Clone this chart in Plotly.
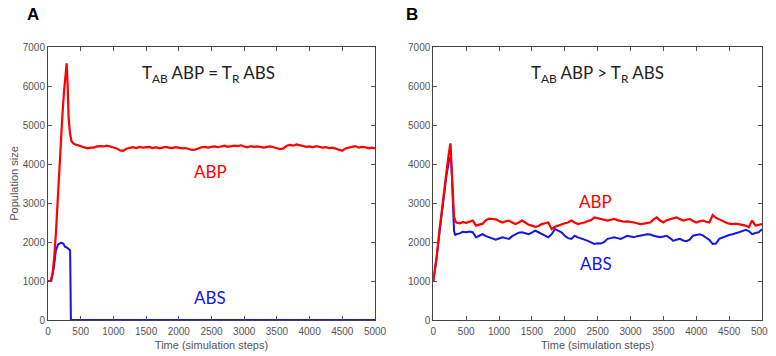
import plotly.graph_objects as go

# ---------------- data ----------------
# Panel A (T_AB ABP = T_R ABS)
a_abp_t_early = [0, 40, 70, 95, 120, 145, 170, 195, 220, 245, 270, 285, 300, 315, 335, 360]
a_abp_v_early = [1000, 1000, 1200, 1600, 2200, 3000, 3850, 4550, 5250, 5850, 6350, 6580, 6050, 5200, 4800, 4580]
a_abp_t_plateau = list(range(400, 5001, 50))
a_abp_v_plateau = [
    4510, 4480, 4470, 4440, 4400, 4420, 4420, 4450, 4460, 4450,
    4470, 4450, 4430, 4400, 4350, 4340, 4390, 4420, 4430, 4410,
    4440, 4420, 4430, 4440, 4410, 4430, 4400, 4430, 4440, 4420,
    4410, 4430, 4420, 4400, 4410, 4390, 4360, 4370, 4410, 4430,
    4440, 4420, 4440, 4450, 4430, 4460, 4470, 4440, 4450, 4470,
    4460, 4480, 4450, 4430, 4460, 4440, 4450, 4430, 4420, 4440,
    4450, 4430, 4410, 4380, 4400, 4470, 4490, 4470, 4500, 4480,
    4460, 4440, 4450, 4430, 4460, 4440, 4420, 4430, 4410, 4420,
    4390, 4370, 4340, 4400, 4430, 4440, 4460, 4420, 4440, 4430,
    4400, 4420, 4400,
]
a_abs_t = [0, 50, 90, 120, 155, 198, 234, 259, 285, 310, 338, 343, 350, 5000]
a_abs_v = [1000, 1000, 1350, 1780, 1940, 1980, 1960, 1880, 1860, 1830, 1790, 1100, 0, 0]

# Panel B (T_AB ABP > T_R ABS)
b_abp_t_early = [0, 50, 100, 150, 200, 240, 262, 280, 295, 315, 335]
b_abp_v_early = [1000, 1620, 2390, 3150, 3800, 4320, 4530, 3850, 3150, 2650, 2540]
b_abp_t_plateau = list(range(350, 5001, 50))
b_abp_v_plateau = [
    2500, 2480, 2510, 2490, 2520, 2550, 2420, 2440, 2470, 2560,
    2600, 2590, 2580, 2540, 2500, 2530, 2550, 2500, 2460, 2500,
    2550, 2500, 2440, 2420, 2390, 2410, 2460, 2480, 2500, 2330,
    2390, 2420, 2460, 2480, 2500, 2550, 2500, 2460, 2480, 2500,
    2540, 2560, 2630, 2610, 2590, 2570, 2550, 2570, 2590, 2560,
    2540, 2520, 2530, 2520, 2500, 2480, 2460, 2470, 2490, 2500,
    2580, 2630, 2550, 2500, 2560, 2590, 2620, 2630, 2590, 2550,
    2570, 2590, 2540, 2500, 2530, 2550, 2520, 2500, 2690, 2620,
    2580, 2530, 2500, 2470, 2460, 2470, 2460, 2440, 2420, 2380,
    2550, 2420, 2440, 2460,
]
b_abs_t_early = [0, 50, 100, 150, 200, 240, 265, 278, 295, 315, 332]
b_abs_v_early = [1000, 1580, 2330, 3080, 3700, 4100, 4180, 3900, 3100, 2300, 2170]
b_abs_t_plateau = list(range(350, 5001, 50))
b_abs_v_plateau = [
    2200, 2220, 2260, 2250, 2270, 2250, 2120, 2160, 2200, 2150,
    2120, 2080, 2060, 2090, 2120, 2100, 2080, 2150, 2200, 2240,
    2250, 2220, 2200, 2240, 2290, 2250, 2200, 2150, 2120, 2200,
    2330, 2290, 2250, 2160, 2100, 2080, 2160, 2120, 2080, 2060,
    2030, 2000, 1950, 1970, 1960, 2000, 2080, 2100, 2120, 2100,
    2080, 2120, 2160, 2140, 2120, 2150, 2160, 2180, 2200, 2190,
    2160, 2140, 2120, 2140, 2160, 2100, 2030, 2060, 2080, 2040,
    2020, 2060, 2160, 2180, 2200, 2170, 2120, 2050, 1950, 1960,
    2080, 2120, 2160, 2180, 2200, 2220, 2250, 2280, 2310, 2280,
    2200, 2230, 2250, 2330,
]

x_ticks = [0, 500, 1000, 1500, 2000, 2500, 3000, 3500, 4000, 4500, 5000]
y_ticks = [0, 1000, 2000, 3000, 4000, 5000, 6000, 7000]

RED = "rgb(255,0,0)"
BLUE = "rgb(20,20,235)"

fig = go.Figure()
fig.add_trace(go.Scatter(x=a_abs_t, y=a_abs_v, mode="lines", line=dict(color=BLUE, width=2),
                         xaxis="x", yaxis="y", showlegend=False))
fig.add_trace(go.Scatter(x=a_abp_t_early + a_abp_t_plateau, y=a_abp_v_early + a_abp_v_plateau,
                         mode="lines", line=dict(color=RED, width=2.2), xaxis="x", yaxis="y", showlegend=False))
fig.add_trace(go.Scatter(x=b_abs_t_early + b_abs_t_plateau, y=b_abs_v_early + b_abs_v_plateau,
                         mode="lines", line=dict(color=BLUE, width=2), xaxis="x2", yaxis="y2", showlegend=False))
fig.add_trace(go.Scatter(x=b_abp_t_early + b_abp_t_plateau, y=b_abp_v_early + b_abp_v_plateau,
                         mode="lines", line=dict(color=RED, width=2.2), xaxis="x2", yaxis="y2", showlegend=False))

# page body has an 8px margin: the figure is placed at (8, 8) in the window
OFF = 8
W, H = 776 - OFF, 356 - OFF
ML, MR, MT, MB = 40, 14, 39, 36
PW = W - ML - MR
PH = H - MT - MB
tickfont = dict(family="Liberation Sans, Arial, sans-serif", size=10, color="#555")
titlefont = dict(family="Liberation Sans, Arial, sans-serif", size=11, color="#555")

def xax(domain, anchor):
    return dict(domain=domain, anchor=anchor, range=[0, 5000], tickvals=x_ticks, automargin=False,
                ticks="inside", ticklen=4, tickcolor="#555", showline=True, linecolor="#444",
                linewidth=1, mirror="ticks", showgrid=False, zeroline=False, tickfont=tickfont,
                ticklabelstandoff=2,
                title=dict(text="Time (simulation steps)", font=titlefont, standoff=5))

def yax(domain, anchor, title):
    return dict(domain=domain, anchor=anchor, range=[0, 7000], tickvals=y_ticks, automargin=False,
                ticks="inside", ticklen=4, tickcolor="#555", showline=True, linecolor="#444",
                linewidth=1, mirror="ticks", showgrid=False, zeroline=False, tickfont=tickfont,
                title=dict(text=title, font=titlefont, standoff=5))

fig.update_layout(
    width=W, height=H, margin=dict(l=ML, r=MR, t=MT, b=MB),
    paper_bgcolor="white", plot_bgcolor="white",
    xaxis=xax([0, (375 - OFF - ML) / PW], "y"),
    yaxis=yax([0, 1], "x", "Population size"),
    xaxis2=xax([(433.3 - OFF - ML) / PW, 1], "y2"),
    yaxis2=yax([0, 1], "x2", ""),
)

ann_font = dict(family="Lato, sans-serif", size=17, color="#222")
label_font = dict(family="Lato, sans-serif", size=17)

def ann(x, y, text, font):
    # x, y: target window pixels
    return dict(x=(x - OFF - ML) / PW, y=(H - MB - (y - OFF)) / PH, xref="paper", yref="paper",
                text=text, showarrow=False, font=font, xanchor="center", yanchor="middle")

fig.update_layout(annotations=[
    ann(33, 15, "<b>A</b>", dict(family="Liberation Sans, Arial, sans-serif", size=17, color="black")),
    ann(411.5, 15, "<b>B</b>", dict(family="Liberation Sans, Arial, sans-serif", size=17, color="black")),
    ann(208, 74, "T<sub>AB</sub> ABP = T<sub>R</sub> ABS", ann_font),
    ann(597, 74, "T<sub>AB</sub> ABP > T<sub>R</sub> ABS", ann_font),
    ann(210, 171, "ABP", dict(label_font, color=RED)),
    ann(210, 297, "ABS", dict(label_font, color=BLUE)),
    ann(595, 201, "ABP", dict(label_font, color=RED)),
    ann(596, 263, "ABS", dict(label_font, color=BLUE)),
])

fig.write_html("out.html")
